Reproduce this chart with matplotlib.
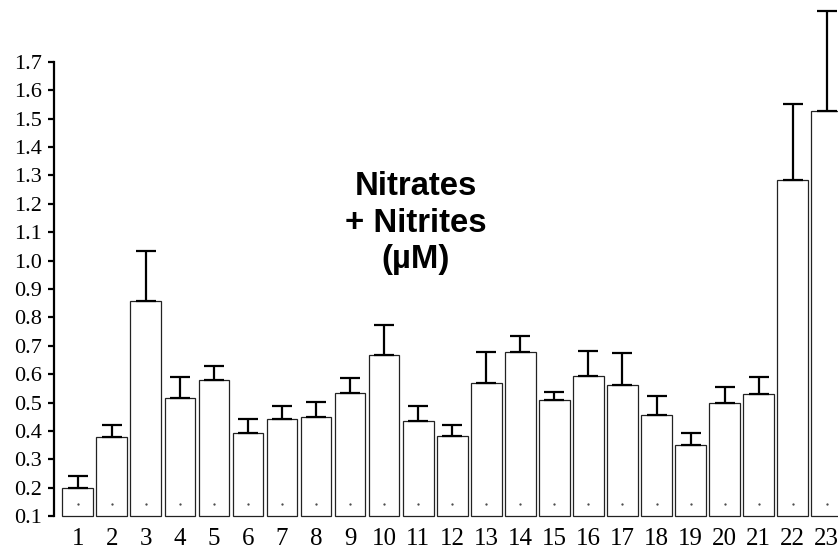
import matplotlib.pyplot as plt
import numpy as np

# Nitrate + nitrite concentration per station, bars with upward SE whiskers

stations = [str(i) for i in range(1, 24)]
means = [0.197, 0.379, 0.858, 0.517, 0.579, 0.392, 0.441, 0.448, 0.532, 0.668,
         0.435, 0.381, 0.570, 0.679, 0.508, 0.594, 0.561, 0.456, 0.351, 0.499,
         0.531, 1.283, 1.528]
errors = [0.044, 0.042, 0.177, 0.072, 0.050, 0.049, 0.047, 0.054, 0.054, 0.105,
          0.053, 0.040, 0.107, 0.056, 0.029, 0.087, 0.115, 0.067, 0.043, 0.056,
          0.059, 0.268, 0.351]
yticks = [round(0.1 * k, 1) for k in range(1, 18)]
baseline = 0.1

W, H = 838, 548
fig = plt.figure(figsize=(W / 100, H / 100), dpi=100)

# axes runs past the right edge so the last bar is cut off
x0, x1 = 0.304, 24.0
px_per_unit = 34.05
ax_left, ax_bottom, ax_top = 54, 516, 62
ax = fig.add_axes([ax_left / W, (H - ax_bottom) / H,
                   (x1 - x0) * px_per_unit / W, (ax_bottom - ax_top) / H])

x = np.arange(1, len(stations) + 1)
heights = np.array(means) - baseline
ax.bar(x, heights, bottom=baseline, width=0.9, color='white',
       edgecolor='#222222', linewidth=0.9, clip_on=False, zorder=2)
ax.errorbar(x, means, yerr=[np.zeros(len(errors)), errors], fmt='none',
            ecolor='black', elinewidth=1.6, capsize=7.5, capthick=1.6,
            clip_on=False, zorder=3)
ax.scatter(x, np.full(len(x), 0.142), s=0.4, color='#444444', zorder=3,
           clip_on=False)

ax.set_xlim(x0, x1)
ax.set_ylim(0.1, 1.7)
ax.set_yticks(yticks)
ax.set_yticklabels(['%.1f' % v for v in yticks])
ax.set_xticks(x)
ax.set_xticklabels(stations)

for side in ['top', 'right', 'bottom']:
    ax.spines[side].set_visible(False)
ax.spines['left'].set_linewidth(1.6)
ax.tick_params(axis='y', length=4, width=1.6, pad=4.5,
               labelsize=16, labelfontfamily='Liberation Serif')
ax.tick_params(axis='x', length=0, pad=8.5,
               labelsize=18, labelfontfamily='Liberation Serif')
ax.patch.set_visible(False)

fig.text(416 / W, 1 - 171 / H, 'Nitrates\n+ Nitrites\n(\u00b5M)',
         ha='center', va='top', fontsize=23.7, fontweight='bold',
         family='Liberation Sans', linespacing=1.23)

fig.savefig('out.png', dpi=100)
